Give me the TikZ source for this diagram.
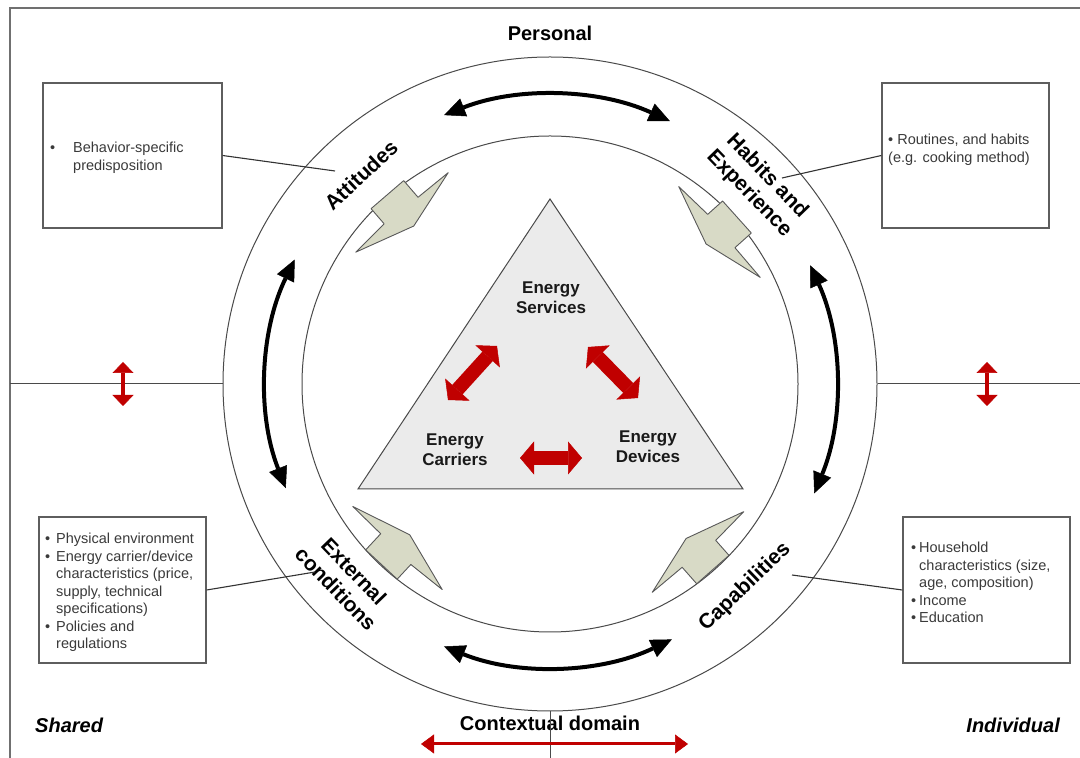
\documentclass[tikz,border=0pt]{standalone}
\usepackage{fontspec}
\setmainfont{Liberation Sans}
\usetikzlibrary{arrows.meta}
\definecolor{framegray}{HTML}{707070}
\definecolor{linegray}{HTML}{4A4A4A}
\definecolor{boxgray}{HTML}{5E5E5E}
\definecolor{txtgray}{HTML}{3A3A3A}
\definecolor{trifill}{HTML}{EBEBEB}
\definecolor{boltfill}{HTML}{D8DAC6}
\definecolor{darkred}{HTML}{C00000}
\begin{document}
\begin{tikzpicture}[x=1pt,y=1pt,
  head/.style={font=\fontsize{20}{24}\selectfont\bfseries, inner sep=0pt},
  corner/.style={font=\fontsize{20}{24}\selectfont\bfseries\itshape, inner sep=0pt},
  ringlabel/.style={font=\fontsize{21}{25}\selectfont\bfseries, align=center, inner sep=0pt},
  energy/.style={font=\fontsize{17}{20}\selectfont\bfseries, align=center, inner sep=0pt, text=black!90},
  infobox/.style={draw=boxgray, line width=1.3pt, minimum width=#1, minimum height=145pt, inner sep=0pt},
  boxtext/.style={font=\fontsize{14.5}{17.5}\selectfont, text=txtgray, inner sep=0pt, anchor=base west},
  ringline/.style={draw=linegray, line width=1pt},
  divider/.style={draw=linegray, line width=1pt},
  leader/.style={draw=black!80, line width=1.1pt},
  blackarc/.style={draw=black, line width=4pt, {Triangle[length=21pt,width=19pt,line width=0.5pt]}-{Triangle[length=21pt,width=19pt,line width=0.5pt]}},
  blockarrow/.style={draw=darkred, line width=14pt, {Triangle[length=14pt,width=33pt,line width=0.5pt]}-{Triangle[length=14pt,width=33pt,line width=0.5pt]}},
  thinred/.style={draw=darkred, line width=3pt, {Triangle[length=13pt,width=19pt,line width=0.5pt]}-{Triangle[length=13pt,width=19pt,line width=0.5pt]}},
  smallred/.style={draw=darkred, line width=3.5pt, {Triangle[length=11pt,width=21pt,line width=0.5pt]}-{Triangle[length=11pt,width=21pt,line width=0.5pt]}},
  bolt/.pic={\draw[draw=black!65, fill=boltfill, line width=0.9pt, line join=round] (-61,0) -- (-21,3) -- (-21,23) -- (22,23) -- (22,1) -- (61,0) -- (0,-18) -- cycle;}
]
\useasboundingbox (0,0) rectangle (1080,758);
\fill[white] (0,0) rectangle (1080,758);

% frame
\draw[draw=framegray, line width=1.6pt] (10,0) -- (10,750) -- (1080,750);

% circles
\coordinate (O) at (550,374);
\node[circle, ringline, minimum size=654pt, inner sep=0pt] (outer) at (O) {};
\node[circle, ringline, minimum size=496pt, inner sep=0pt] (inner) at (O) {};

% dividers
\coordinate (lw) at (10,374);
\coordinate (re) at (1080,374);
\coordinate (bot) at (550,0);
\draw[divider] (lw) -- (outer.west);
\draw[divider] (outer.east) -- (re);

% black arc arrows in the ring
\draw[blackarc] ([shift={(65.5:289)}]O) arc (65.5:111.5:289);
\draw[blackarc] ([shift={(154:284)}]O) arc (154:201.5:284);
\draw[blackarc] ([shift={(248:283)}]O) arc (248:295.5:283);
\draw[blackarc] ([shift={(-22.5:286)}]O) arc (-22.5:24.5:286);

% lightning bolts
\pic[rotate=40.7] (b1) at (402,545.6) {bolt};
\pic[rotate=-48.1] (b2) at (719.5,526) {bolt};
\pic[rotate=137.1] (b3) at (397.5,210) {bolt};
\pic[rotate=-138.6] (b4) at (698,206) {bolt};

% triangle
\coordinate (tA) at (550,559);
\coordinate (tB) at (358,269);
\coordinate (tC) at (743,269);
\filldraw[fill=trifill, draw=linegray, line width=1pt] (tA) -- (tB) -- (tC) -- cycle;

\node[energy] (serv) at (551,460) {Energy\\Services};
\node[energy] (carr) at (455,308) {Energy\\Carriers};
\node[energy] (dev) at (648,311) {Energy\\Devices};

% red block arrows
\coordinate (l1) at (448,358); \coordinate (l2) at (497,412);
\coordinate (r1) at (588,411); \coordinate (r2) at (638,360);
\coordinate (m1) at (520,300); \coordinate (m2) at (582,300);
\draw[blockarrow] (l1) -- (l2);
\draw[blockarrow] (r1) -- (r2);
\draw[blockarrow] (m1) -- (m2);

% ring labels
\node[ringlabel, rotate=43] (att) at (361,583) {Attitudes};
\node[ringlabel, rotate=-46] (hab) at (758,573) {Habits and\\Experience};
\node[ringlabel, rotate=-46] (ext) at (345,178) {External\\conditions};
\node[ringlabel, rotate=44] (cap) at (745,171) {Capabilities};

% headings
\node[head] (personal) at (550,725) {Personal};
\node[head] (context) at (550,35) {Contextual domain};
\node[corner, anchor=west] (shared) at (35,33) {Shared};
\node[corner, anchor=east] (indiv) at (1060,33) {Individual};

\draw[divider] (outer.south) -- (bot);

% red domain arrows
\coordinate (cl) at (421,14); \coordinate (cr) at (688,14);
\draw[thinred] (cl) -- (cr);
\coordinate (sl1) at (123,352); \coordinate (sl2) at (123,396);
\coordinate (sr1) at (987,352); \coordinate (sr2) at (987,396);
\draw[smallred] (sl1) -- (sl2);
\draw[smallred] (sr1) -- (sr2);

% info boxes
\node[infobox=179pt] (tlbox) at (132.5,602.5) {};
\node[infobox=167pt] (trbox) at (965.5,602.5) {};
\node[infobox=167pt, minimum height=146pt] (blbox) at (122.5,168) {};
\node[infobox=167pt, minimum height=146pt] (brbox) at (986.5,168) {};

\node[boxtext] (tltext) at (50,605) {\begin{tabular}[t]{@{}l@{}}\makebox[23pt][l]{•}Behavior-specific\\ \hspace*{23pt}predisposition\end{tabular}};
\node[boxtext] (trtext) at (888,613) {\begin{tabular}[t]{@{}l@{}}• Routines, and habits\\(e.g. cooking method)\end{tabular}};
\node[boxtext] (bltext) at (45,214) {\begin{tabular}[t]{@{}l@{}}\makebox[11pt][l]{•}Physical environment\\ \makebox[11pt][l]{•}Energy carrier/device\\ \hspace*{11pt}characteristics (price,\\ \hspace*{11pt}supply, technical\\ \hspace*{11pt}specifications)\\ \makebox[11pt][l]{•}Policies and\\ \hspace*{11pt}regulations\end{tabular}};
\node[boxtext] (brtext) at (911,205) {\begin{tabular}[t]{@{}l@{}}\makebox[8pt][l]{•}Household\\ \hspace*{8pt}characteristics (size,\\ \hspace*{8pt}age, composition)\\ \makebox[8pt][l]{•}Income\\ \makebox[8pt][l]{•}Education\end{tabular}};

% leaders
\coordinate (attend) at (335,587);
\coordinate (habend) at (782,580);
\coordinate (extend) at (315,186);
\coordinate (capend) at (792,183);
\draw[leader] (tlbox.east) -- (attend);
\draw[leader] (trbox.west) -- (habend);
\draw[leader] (blbox.east) -- (extend);
\draw[leader] (brbox.west) -- (capend);
\end{tikzpicture}
\end{document}
